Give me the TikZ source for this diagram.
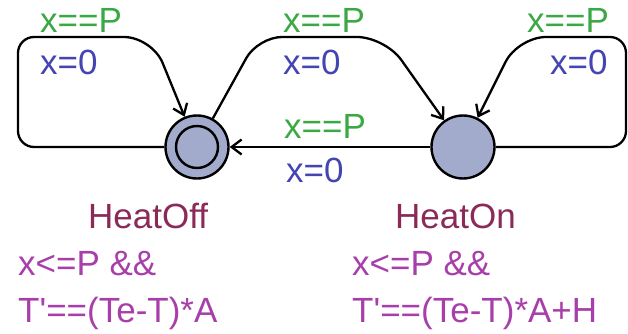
\documentclass[tikz,border=0pt]{standalone}
\usepackage{fontspec}
\setmainfont{Liberation Sans}
\usetikzlibrary{arrows.meta}

\definecolor{locfill}{RGB}{163,171,204}
\definecolor{guardcol}{RGB}{58,168,68}
\definecolor{assigncol}{RGB}{68,68,178}
\definecolor{namecol}{RGB}{138,42,88}
\definecolor{invcol}{RGB}{168,62,170}

\begin{document}
\begin{tikzpicture}[x=1pt,y=-1pt]
	\tikzset{>={Straight Barb[length=10pt,width=15pt]}}
	\tikzset{loc/.style={circle,draw,line width=2.4pt,fill=locfill,minimum size=63pt,inner sep=0pt}}
	\tikzset{edge/.style={->,line width=2.3pt,rounded corners=16pt}}
	\tikzset{lbl/.style={anchor=base west,inner sep=0pt,font=\fontsize{35}{40}\selectfont}}
	\useasboundingbox (0,0) rectangle (628,334);

	% locations
	\node[loc] (off) at (197,147) {};
	\node[circle,draw,line width=2.4pt,minimum size=42pt,inner sep=0pt] (offinit) at (off) {};
	\node[loc] (on) at (463,147) {};

	% transitions
	\draw[edge] (off.west) -- (18,147) -- (18,37) [rounded corners=28pt] -- (152,37) -- (off);
	\draw[edge] (off) [rounded corners=24pt] -- (258,37) [rounded corners=28pt] -- (385,37) -- (on);
	\draw[edge] (on.east) -- (626,147) -- (626,37) [rounded corners=28pt] -- (518,37) -- (on);
	\draw[edge] (on) -- (off);

	% guards and updates
	\node[lbl,guardcol] (g1) at (40,33) {x==P};
	\node[lbl,assigncol] (a1) at (40,75) {x=0};
	\node[lbl,guardcol] (g2) at (283,33) {x==P};
	\node[lbl,assigncol] (a2) at (283,75) {x=0};
	\node[lbl,guardcol] (g3) at (527,33) {x==P};
	\node[lbl,assigncol] (a3) at (550,75) {x=0};
	\node[lbl,guardcol] (g4) at (284,138) {x==P};
	\node[lbl,assigncol] (a4) at (286,182) {x=0};

	% names and invariants
	\node[lbl,namecol] (noff) at (88,228) {HeatOff};
	\node[lbl,namecol] (non) at (395,228) {HeatOn};
	\node[lbl,invcol] (ioff1) at (18,275) {x<=P \&\&};
	\node[lbl,invcol] (ioff2) at (18,322) {T\textquotesingle==(Te-T)*A};
	\node[lbl,invcol] (ion1) at (352,275) {x<=P \&\&};
	\node[lbl,invcol] (ion2) at (352,322) {T\textquotesingle==(Te-T)*A+H};
\end{tikzpicture}
\end{document}
